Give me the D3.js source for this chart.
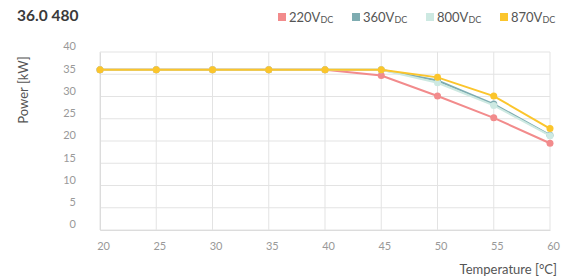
<!DOCTYPE html>
<html>
<head>
<meta charset="utf-8">
<script src="https://cdn.jsdelivr.net/npm/d3@7"></script>
<style>
  body { margin: 0; background: #fff; }
  svg { display: block; font-family: Lato, "Open Sans", sans-serif; }
</style>
</head>
<body>
<svg id="chart" width="568" height="278"></svg>
<script>
// data
var temps = [20, 25, 30, 35, 40, 45, 50, 55, 60];
var v220 = [36, 36, 36, 36, 36, 34.7, 30.1, 25.2, 19.5];
var v360 = [36, 36, 36, 36, 36, 36, 33.6, 28.3, 21.3];
var v800 = [36, 36, 36, 36, 36, 36, 33.1, 28.0, 21.2];
var v870 = [36, 36, 36, 36, 36, 36, 34.3, 30.1, 22.8];
var seriesNames = ['220', '360', '800', '870'];
var yTicks = [0, 5, 10, 15, 20, 25, 30, 35, 40];

var colors = ['#f28b8c', '#7eacb1', '#cde9e2', '#fbc52c'];
var series = [v220, v360, v800, v870];

var svg = d3.select('#chart');
var m = {left: 100, right: 550, top: 52, bottom: 230};

var x = d3.scaleLinear().domain([20, 60]).range([m.left, m.right]);
var y = d3.scaleLinear().domain([0, 40]).range([m.bottom, m.top]);

// title
svg.append('text')
  .attr('x', 17).attr('y', 21)
  .attr('font-size', 15.5).attr('font-weight', 'bold')
  .attr('fill', '#3a3a3a')
  .text('36.0 480');

// grid
var grid = svg.append('g');
grid.selectAll('.hy').data(yTicks).enter().append('line')
  .attr('x1', m.left).attr('x2', m.right)
  .attr('y1', d => y(d)).attr('y2', d => y(d))
  .attr('stroke', '#e3e3e3').attr('stroke-width', 1);
grid.selectAll('.vx').data(temps).enter().append('line')
  .attr('y1', m.top).attr('y2', m.bottom)
  .attr('x1', d => x(d)).attr('x2', d => x(d))
  .attr('stroke', '#e3e3e3').attr('stroke-width', 1);

// axes
var yAxis = svg.append('g')
  .attr('transform', `translate(${m.left},0)`)
  .call(d3.axisLeft(y).tickValues(yTicks).tickSize(0).tickPadding(24));
yAxis.select('.domain').attr('stroke', '#dcdcdc');
yAxis.selectAll('text').attr('fill', '#999').attr('font-size', 11)
  .attr('font-family', 'Lato, sans-serif').attr('dy', '-0.2em');

var xAxis = svg.append('g')
  .attr('transform', `translate(0,${m.bottom})`)
  .call(d3.axisBottom(x).tickValues(temps).tickSize(0).tickPadding(12));
xAxis.select('.domain').attr('stroke', '#dcdcdc');
xAxis.selectAll('text').attr('fill', '#999').attr('font-size', 11)
  .attr('font-family', 'Lato, sans-serif').attr('dx', '3');

// axis titles
svg.append('text')
  .attr('transform', 'translate(28,90) rotate(-90)')
  .attr('text-anchor', 'middle')
  .attr('font-size', 13).attr('fill', '#555')
  .text('Power [kW]');
svg.append('text')
  .attr('x', 557).attr('y', 274)
  .attr('text-anchor', 'end')
  .attr('font-size', 13).attr('fill', '#555')
  .text('Temperature [°C]');

// lines
var line = d3.line().x((d, i) => x(temps[i])).y(d => y(d));
series.forEach(function(s, k) {
  var g = svg.append('g');
  g.append('path').datum(s)
    .attr('d', line)
    .attr('fill', 'none')
    .attr('stroke', colors[k])
    .attr('stroke-width', 2);
  g.selectAll('circle').data(s).enter().append('circle')
    .attr('cx', (d, i) => x(temps[i]))
    .attr('cy', d => y(d))
    .attr('r', 3.5)
    .attr('fill', colors[k]);
});

// legend
var legendX = [278, 352, 426, 500];
var legend = svg.append('g');
seriesNames.forEach(function(n, k) {
  var g = legend.append('g').attr('transform', `translate(${legendX[k]},17)`);
  g.append('rect').attr('x', 0).attr('y', -4).attr('width', 8).attr('height', 8)
    .attr('fill', colors[k]);
  var t = g.append('text').attr('x', 11).attr('y', 5)
    .attr('font-size', 13).attr('fill', '#555');
  t.append('tspan').text(n + 'V');
  t.append('tspan').attr('font-size', 9).attr('dy', 1).text('DC');
});
</script>
</body>
</html>
